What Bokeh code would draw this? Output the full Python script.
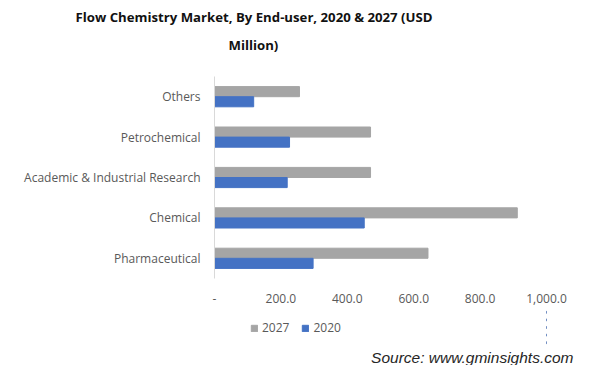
from bokeh.plotting import figure
from bokeh.models import (ColumnDataSource, FixedTicker, Title, Legend, LegendItem, Range1d)
from bokeh.layouts import column
from bokeh.transform import dodge
from bokeh.embed import file_html
from bokeh.resources import INLINE

categories = ["Pharmaceutical", "Chemical", "Academic & Industrial Research", "Petrochemical", "Others"]
values_2027 = [643, 912, 470, 470, 256]
values_2020 = [297, 451, 219, 226, 118]
x_ticks = [0, 200, 400, 600, 800, 1000]
x_tick_labels = ["-", "200.0", "400.0", "600.0", "800.0", "1,000.0"]
series_names = ["2027", "2020"]
series_colors = ["#a5a5a5", "#4472c4"]

src = ColumnDataSource(dict(cat=categories, v2027=values_2027, v2020=values_2020))

p = figure(width=586, height=308, y_range=categories, x_range=Range1d(0, 1000),
           output_backend="svg", toolbar_location=None,
           min_border_left=214, min_border_right=40, min_border_top=76, min_border_bottom=30)
p.outline_line_color = None

p.hbar(y=dodge("cat", 0.125, range=p.y_range), right="v2027", height=0.25, left=0,
       source=src, color=series_colors[0])
p.hbar(y=dodge("cat", -0.125, range=p.y_range), right="v2020", height=0.25, left=0,
       source=src, color=series_colors[1])

p.xgrid.visible = False
p.ygrid.visible = False

p.xaxis.ticker = FixedTicker(ticks=x_ticks)
p.xaxis.major_label_overrides = {t: l for t, l in zip(x_ticks, x_tick_labels)}
p.xaxis.axis_line_color = None
p.xaxis.major_tick_line_color = None
p.xaxis.minor_tick_line_color = None
p.xaxis.major_label_text_font = "Open Sans"
p.xaxis.major_label_text_font_size = "12px"
p.xaxis.major_label_text_color = "#595959"
p.xaxis.major_label_standoff = 9

p.yaxis.axis_line_color = "#d9d9d9"
p.yaxis.major_tick_line_color = None
p.yaxis.minor_tick_line_color = None
p.yaxis.major_label_text_font = "Open Sans"
p.yaxis.major_label_text_font_size = "12px"
p.yaxis.major_label_text_color = "#595959"
p.yaxis.major_label_standoff = 8

spacer = Title(text=" ", text_font_size="1px", standoff=18)
t2 = Title(text="Million)", align="left", offset=14, text_font="Open Sans",
           text_font_style="bold", text_font_size="13.2px", text_color="#111111", standoff=4)
t1 = Title(text="Flow Chemistry Market, By End-user, 2020  & 2027  (USD", align="left",
           offset=-139, text_font="Open Sans", text_font_style="bold",
           text_font_size="13.2px", text_color="#111111", standoff=11)
p.add_layout(spacer, "above")
p.add_layout(t2, "above")
p.add_layout(t1, "above")

# bottom strip: legend (keyed to the same series, drawn off-canvas) and source note
p2 = figure(width=586, height=57, y_range=categories, x_range=Range1d(-2000, -1000),
            output_backend="svg", toolbar_location=None,
            min_border_left=0, min_border_right=0, min_border_top=0, min_border_bottom=0)
p2.axis.visible = False
p2.grid.visible = False
p2.outline_line_color = None
g1 = p2.hbar(y="cat", right="v2027", left=0, height=0.25, source=src, color=series_colors[0])
g2 = p2.hbar(y="cat", right="v2020", left=0, height=0.25, source=src, color=series_colors[1])
legend = Legend(items=[LegendItem(label=series_names[0], renderers=[g1]),
                       LegendItem(label=series_names[1], renderers=[g2])],
                orientation="horizontal", location=(36, 10),
                glyph_width=8, glyph_height=8, label_text_font="Open Sans",
                label_text_font_size="12px", label_text_color="#595959",
                border_line_color=None, background_fill_alpha=0,
                padding=0, margin=0, spacing=12, label_standoff=4)
p2.add_layout(legend, "center")
p2.add_layout(Title(text="Source: www.gminsights.com", align="right", offset=-27,
                    text_font="Liberation Sans", text_font_style="italic",
                    text_font_size="15.5px", text_color="#262626", standoff=0), "below")

layout = column(p, p2, spacing=0)
open("out.html", "w").write(file_html(layout, INLINE))
